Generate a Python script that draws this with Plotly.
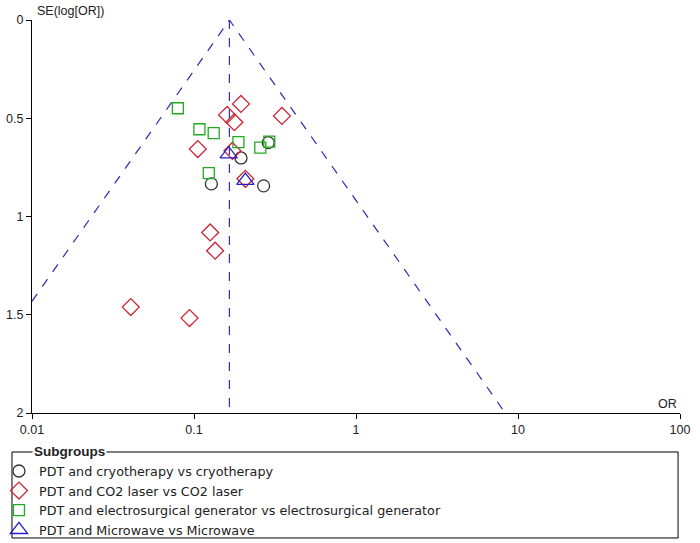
import math
import plotly.graph_objects as go

# ---- data ----
cryo_or = [0.287, 0.195, 0.128, 0.269]
cryo_se = [0.624, 0.702, 0.834, 0.844]

co2_or = [0.195, 0.349, 0.160, 0.1775, 0.1055, 0.1726, 0.2075, 0.1258, 0.135, 0.0407, 0.0938]
co2_se = [0.427, 0.488, 0.483, 0.520, 0.657, 0.666, 0.808, 1.081, 1.174, 1.461, 1.517]

elec_or = [0.0795, 0.108, 0.1323, 0.188, 0.2566, 0.2915, 0.1234]
elec_se = [0.449, 0.556, 0.576, 0.622, 0.649, 0.619, 0.779]

micro_or = [0.1638, 0.2075]
micro_se = [0.683, 0.817]

summary_or = 0.1654
se_max = 2.0
x_min = 0.01

tick_vals = [0.01, 0.1, 1, 10, 100]
tick_text = ["0.01", "0.1", "1", "10", "100"]
y_ticks = [0, 0.5, 1, 1.5, 2]
y_text = ["0", "0.5", "1", "1.5", "2"]

names = ["PDT and cryotherapy vs cryotherapy",
         "PDT and CO2 laser vs CO2 laser",
         "PDT and electrosurgical generator vs electrosurgical generator",
         "PDT and Microwave vs Microwave"]

# ---- funnel geometry derived from the summary estimate ----
right_or = summary_or * math.exp(1.96 * se_max)
left_se = math.log(summary_or / x_min) / 1.96

fig = go.Figure()
line_col = "#2b2bb0"
fig.add_trace(go.Scatter(x=[x_min, summary_or, right_or], y=[left_se, 0, se_max],
                         mode="lines", line=dict(color=line_col, width=1.2, dash="dash"),
                         showlegend=False, hoverinfo="skip"))
fig.add_trace(go.Scatter(x=[summary_or, summary_or], y=[0, se_max],
                         mode="lines", line=dict(color="#3030c0", width=1.2, dash="dash"),
                         showlegend=False, hoverinfo="skip"))

styles = [
    (cryo_or, cryo_se, "circle-open", "#333333", 12),
    (co2_or, co2_se, "diamond-open", "#cc2233", 13),
    (elec_or, elec_se, "square-open", "#22aa22", 11),
    (micro_or, micro_se, "triangle-up-open", "#2222cc", 15),
]
for (xs, ys, sym, col, sz), nm in zip(styles, names):
    fig.add_trace(go.Scatter(x=xs, y=ys, mode="markers", name=nm,
                             marker=dict(symbol=sym, color=col, size=sz,
                                         line=dict(color=col, width=1.3))))

font = "Liberation Sans, Arial, sans-serif"
lfont = "DejaVu Sans, Verdana, sans-serif"
fig.update_layout(
    width=700, height=543,
    margin=dict(l=32, r=20, t=20, b=130, autoexpand=False),
    plot_bgcolor="white", paper_bgcolor="white",
    font=dict(family=font, size=12.5, color="#222222"),
    xaxis=dict(type="log", range=[-2, 2], tickvals=tick_vals, ticktext=tick_text,
               showgrid=False, zeroline=False, showline=True, linecolor="black",
               linewidth=1, ticks="outside", ticklen=5, tickcolor="black"),
    yaxis=dict(range=[2, 0], tickvals=y_ticks, ticktext=y_text,
               showgrid=False, zeroline=False, showline=True, linecolor="black",
               linewidth=1, ticks="outside", ticklen=5, tickcolor="black"),
    legend=dict(x=-0.051, y=-0.11, xanchor="left", yanchor="top",
                bgcolor="rgba(0,0,0,0)", borderwidth=0,
                font=dict(family=lfont, size=12.75, color="#222222"),
                itemwidth=30, tracegroupgap=0),
    showlegend=True,
    shapes=[dict(type="rect", xref="paper", yref="paper",
                 x0=-0.0309, x1=0.997, y0=-0.318, y1=-0.0992,
                 line=dict(color="black", width=1))],
    annotations=[
        dict(text="SE(log[OR])", xref="paper", yref="paper", x=0.005, y=1.0,
             xanchor="left", yanchor="bottom", showarrow=False,
             font=dict(family=font, size=12.5, color="#222222")),
        dict(text="OR", xref="paper", yref="paper", x=0.998, y=0.0,
             xanchor="right", yanchor="bottom", showarrow=False,
             font=dict(family=font, size=12.5, color="#222222")),
        dict(text="<b>Subgroups</b>", xref="paper", yref="paper", x=0.0,
             y=-0.0992, xanchor="left", yanchor="middle", showarrow=False,
             bgcolor="white", borderpad=1,
             font=dict(family=font, size=13.5, color="#222222")),
    ],
)

fig.write_html("out.html")
